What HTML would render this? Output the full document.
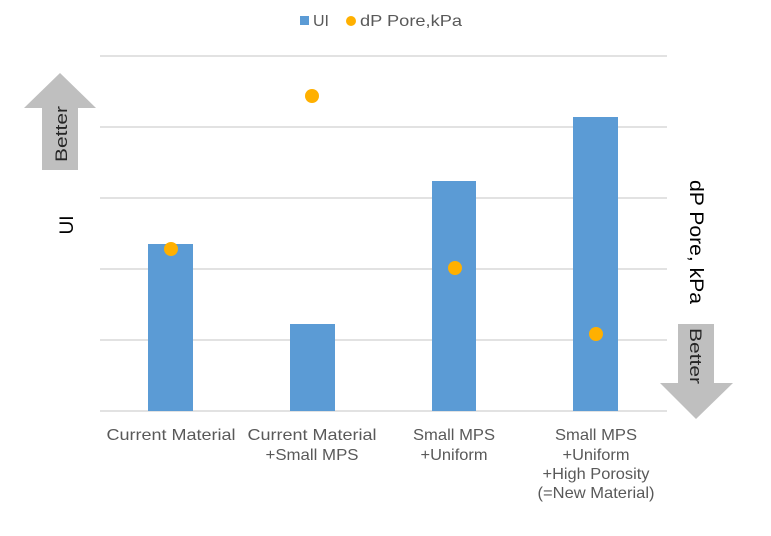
<!DOCTYPE html>
<html><head><style>body{margin:0;background:#fff}</style></head><body>
<svg width="771" height="531" xmlns="http://www.w3.org/2000/svg" font-family="Liberation Sans, sans-serif">
<g stroke="#d9d9d9" stroke-width="1.5">
<line x1="100" y1="56" x2="667" y2="56"/><line x1="100" y1="127" x2="667" y2="127"/>
<line x1="100" y1="198" x2="667" y2="198"/><line x1="100" y1="269" x2="667" y2="269"/>
<line x1="100" y1="340" x2="667" y2="340"/><line x1="100" y1="411" x2="667" y2="411"/>
</g>
<g fill="#5b9bd5">
<rect x="148" y="244" width="45" height="167"/>
<rect x="290" y="324" width="45" height="87"/>
<rect x="432" y="181" width="44" height="230"/>
<rect x="573" y="117" width="45" height="294"/>
</g>
<g fill="#ffb000">
<circle cx="171" cy="249" r="7"/><circle cx="312" cy="96" r="7"/>
<circle cx="455" cy="268" r="7"/><circle cx="596" cy="334" r="7"/>
</g>
<polygon points="60,73 96,108 78,108 78,170 42,170 42,108 24,108" fill="#bfbfbf"/>
<text transform="translate(67,134) rotate(-90)" text-anchor="middle" font-size="17" fill="#262626" textLength="56" lengthAdjust="spacingAndGlyphs">Better</text>
<polygon points="678,324 714,324 714,383 733,383 696,419 660,383 678,383" fill="#bfbfbf"/>
<text transform="translate(690,356) rotate(90)" text-anchor="middle" font-size="17" fill="#262626" textLength="56" lengthAdjust="spacingAndGlyphs">Better</text>
<text transform="translate(73,225) rotate(-90)" text-anchor="middle" font-size="19" fill="#000">UI</text>
<text transform="translate(690,242) rotate(90)" text-anchor="middle" font-size="19" fill="#000" textLength="124" lengthAdjust="spacingAndGlyphs">dP Pore, kPa</text>
<rect x="300" y="16" width="9" height="9" fill="#5b9bd5"/>
<text x="313" y="26" font-size="16" fill="#595959">UI</text>
<circle cx="351" cy="21" r="5" fill="#ffb000"/>
<text x="360" y="26" font-size="16" fill="#595959" textLength="102" lengthAdjust="spacingAndGlyphs">dP Pore,kPa</text>
<g font-size="16" fill="#595959" text-anchor="middle" lengthAdjust="spacingAndGlyphs">
<text x="171" y="440" textLength="129" lengthAdjust="spacingAndGlyphs">Current Material</text>
<text x="312" y="440" textLength="129" lengthAdjust="spacingAndGlyphs">Current Material</text><text x="312" y="460" textLength="93" lengthAdjust="spacingAndGlyphs">+Small MPS</text>
<text x="454" y="440" textLength="82" lengthAdjust="spacingAndGlyphs">Small MPS</text><text x="454" y="460" textLength="67" lengthAdjust="spacingAndGlyphs">+Uniform</text>
<text x="596" y="440" textLength="82" lengthAdjust="spacingAndGlyphs">Small MPS</text><text x="596" y="460" textLength="67" lengthAdjust="spacingAndGlyphs">+Uniform</text>
<text x="596" y="479" textLength="107" lengthAdjust="spacingAndGlyphs">+High Porosity</text><text x="596" y="498" textLength="117" lengthAdjust="spacingAndGlyphs">(=New Material)</text>
</g>
</svg>
</body></html>
